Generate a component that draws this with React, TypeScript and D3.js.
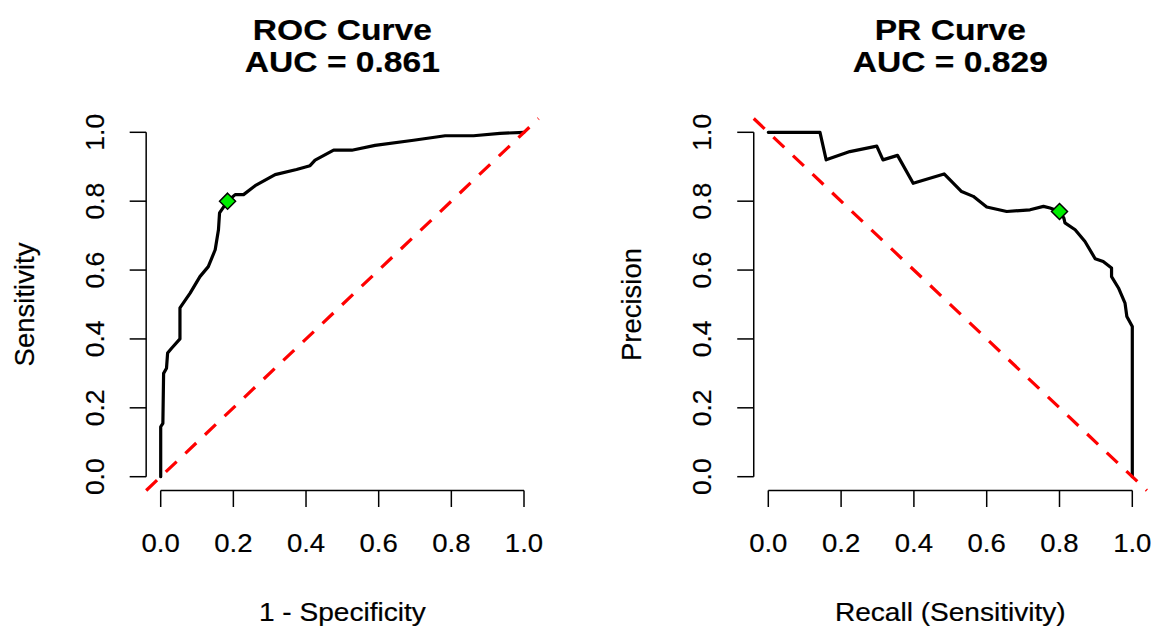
import React from "react";
import * as d3 from "d3";

// ROC curve points (1 - specificity, sensitivity)
const rocFpr = [0, 0, 0.006, 0.008, 0.016, 0.019, 0.03, 0.053, 0.053, 0.081, 0.108, 0.131, 0.15, 0.159, 0.162, 0.171, 0.184, 0.205, 0.228, 0.26, 0.315, 0.374, 0.411, 0.425, 0.476, 0.526, 0.59, 0.696, 0.783, 0.861, 0.934, 1];
const rocTpr = [0, 0.145, 0.155, 0.3, 0.315, 0.359, 0.373, 0.4, 0.49, 0.533, 0.581, 0.61, 0.659, 0.717, 0.766, 0.78, 0.8, 0.819, 0.819, 0.845, 0.877, 0.892, 0.903, 0.919, 0.948, 0.948, 0.962, 0.977, 0.99, 0.99, 0.997, 1];

// PR curve points (recall, precision)
const prRecall = [0, 0.142, 0.159, 0.224, 0.298, 0.315, 0.355, 0.398, 0.483, 0.531, 0.563, 0.6, 0.655, 0.719, 0.756, 0.774, 0.8, 0.812, 0.815, 0.843, 0.87, 0.898, 0.92, 0.943, 0.943, 0.962, 0.98, 0.985, 1, 1];
const prPrecision = [1, 1, 0.92, 0.944, 0.96, 0.92, 0.933, 0.852, 0.879, 0.828, 0.814, 0.783, 0.77, 0.775, 0.785, 0.78, 0.77, 0.751, 0.737, 0.717, 0.683, 0.633, 0.625, 0.606, 0.581, 0.548, 0.504, 0.465, 0.436, 0];

// Optimal threshold markers
const rocBest = [0.184, 0.8];
const prBest = [0.8, 0.77];

const tickValues = [0, 0.2, 0.4, 0.6, 0.8, 1.0];
const tickLabels = ["0.0", "0.2", "0.4", "0.6", "0.8", "1.0"];

const titles = ["ROC Curve", "PR Curve"];
const aucLabels = ["AUC = 0.861", "AUC = 0.829"];
const xLabels = ["1 - Specificity", "Recall (Sensitivity)"];
const yLabels = ["Sensitivity", "Precision"];

const FONT = "'Liberation Sans', Arial, Helvetica, sans-serif";
const SX = 1.08;
const TEXT_STROKE = 0.2;

type PanelProps = {
  idx: number;
  xRange: [number, number];
  xs: number[];
  ys: number[];
  best: number[];
  ascending: boolean;
};

function Panel({ idx, xRange, xs, ys, best, ascending }: PanelProps) {
  const x = d3.scaleLinear().domain([0, 1]).range(xRange);
  const y = d3.scaleLinear().domain([0, 1]).range([476.7, 132.3]);
  const axisX = x(-0.04);
  const axisY = y(-0.04);
  const cx = (x(-0.04) + x(1.04)) / 2;
  const cy = (y(-0.04) + y(1.04)) / 2;
  const pts: [number, number][] = xs.map((v, i) => [v, ys[i]]);
  const line = d3
    .line<[number, number]>()
    .x((d) => x(d[0]))
    .y((d) => y(d[1]));
  const diag: [number, number][] = ascending
    ? [
        [-0.04, -0.04],
        [1.04, 1.04],
      ]
    : [
        [-0.04, 1.04],
        [1.04, -0.04],
      ];
  const bx = x(best[0]);
  const by = y(best[1]);
  const r = 8;
  const tick = 16.5;
  const textProps = {
    fontFamily: FONT,
    fill: "#000",
    stroke: "#000",
    strokeWidth: TEXT_STROKE,
  };
  return (
    <g>
      {/* title */}
      <text
        transform={`translate(${cx},40) scale(1.12,1)`}
        textAnchor="middle"
        fontWeight="bold"
        fontSize={30}
        {...textProps}
      >
        {titles[idx]}
      </text>
      <text
        transform={`translate(${cx},72) scale(1.12,1)`}
        textAnchor="middle"
        fontWeight="bold"
        fontSize={30}
        {...textProps}
      >
        {aucLabels[idx]}
      </text>

      {/* x axis */}
      <line x1={x(0)} x2={x(1)} y1={axisY} y2={axisY} stroke="#000" strokeWidth={1.5} />
      {tickValues.map((t, i) => (
        <g key={"xt" + i}>
          <line x1={x(t)} x2={x(t)} y1={axisY} y2={axisY + tick} stroke="#000" strokeWidth={1.5} />
          <text
            transform={`translate(${x(t)},552) scale(${SX},1)`}
            textAnchor="middle"
            fontSize={25.5}
            {...textProps}
          >
            {tickLabels[i]}
          </text>
        </g>
      ))}
      <text
        transform={`translate(${cx},621) scale(${SX},1)`}
        textAnchor="middle"
        fontSize={26}
        {...textProps}
      >
        {xLabels[idx]}
      </text>

      {/* y axis */}
      <line x1={axisX} x2={axisX} y1={y(0)} y2={y(1)} stroke="#000" strokeWidth={1.5} />
      {tickValues.map((t, i) => (
        <g key={"yt" + i}>
          <line x1={axisX} x2={axisX - tick} y1={y(t)} y2={y(t)} stroke="#000" strokeWidth={1.5} />
          <text
            transform={`translate(${axisX - 42.5},${y(t)}) rotate(-90)`}
            textAnchor="middle"
            fontSize={26.5}
            {...textProps}
          >
            {tickLabels[i]}
          </text>
        </g>
      ))}
      <text
        transform={`translate(${axisX - 112.5},${cy}) rotate(-90)`}
        textAnchor="middle"
        fontSize={27.5}
        {...textProps}
      >
        {yLabels[idx]}
      </text>

      {/* curve */}
      <path
        d={line(pts) || ""}
        fill="none"
        stroke="#000"
        strokeWidth={3.2}
        strokeLinejoin="round"
        strokeLinecap="round"
      />
      {/* reference diagonal */}
      <path
        d={line(diag) || ""}
        fill="none"
        stroke="#FF0000"
        strokeWidth={3.2}
        strokeDasharray="15 12"
      />
      {/* best point */}
      <path
        d={`M${bx},${by - r}L${bx + r},${by}L${bx},${by + r}L${bx - r},${by}Z`}
        fill="#00EE00"
        stroke="#000"
        strokeWidth={1.5}
      />
    </g>
  );
}

export default function App() {
  return (
    <svg
      width={1165}
      height={633}
      style={{ position: "absolute", left: 0, top: 0, background: "#fff" }}
    >
      <rect x={0} y={0} width={1165} height={633} fill="#fff" />
      <Panel idx={0} xRange={[160.7, 524]} xs={rocFpr} ys={rocTpr} best={rocBest} ascending={true} />
      <Panel idx={1} xRange={[768.3, 1132.3]} xs={prRecall} ys={prPrecision} best={prBest} ascending={false} />
    </svg>
  );
}
